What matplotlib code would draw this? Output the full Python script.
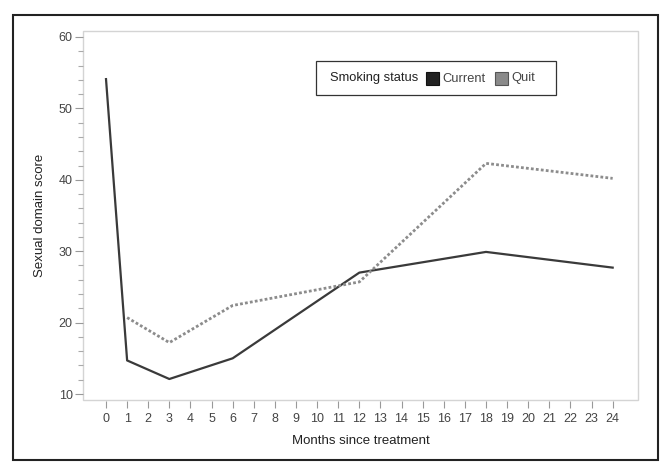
import matplotlib
matplotlib.use('Agg')
import matplotlib.pyplot as plt
from matplotlib.patches import Rectangle

plt.rcParams['font.family'] = ['Liberation Sans', 'DejaVu Sans']

# Sexual domain score by smoking status
current_months = [0, 1, 3, 6, 12, 18, 24]
current_score = [54.1, 14.7, 12.1, 15.0, 27.0, 29.9, 27.7]

quit_months = [1, 3, 6, 12, 18, 24]
quit_score = [20.7, 17.2, 22.4, 25.7, 42.3, 40.2]

x_ticks = list(range(0, 25))
y_major = [10, 20, 30, 40, 50, 60]
y_minor = [v for v in range(12, 60, 2) if v % 10 != 0]

W, H = 671, 473
fig = plt.figure(figsize=(W / 100, H / 100), dpi=100)


def fx(px):
    return px / W


def fy(py):
    return 1 - py / H


ax = fig.add_axes([fx(83), fy(400), (638 - 83) / W, (400 - 31) / H])

ax.plot(current_months, current_score, color='#3a3a3a', lw=1.6)
ax.plot(quit_months, quit_score, color='#8c8c8c', lw=2.0, linestyle=(0, (1, 0.8)))

ax.set_xlim(-1.09, 25.2)
ax.set_ylim(9.16, 60.84)

# light gray plot frame, ticks of x sit just below it
for s in ax.spines.values():
    s.set_visible(False)
ax.add_patch(Rectangle((0, 0), 1, 1, transform=ax.transAxes, fill=False,
                       ec='#d4d4d4', lw=1.0, clip_on=False, zorder=0))
ax.spines['bottom'].set_position(('outward', 1))

ax.set_xticks(x_ticks)
ax.set_yticks(y_major)
ax.set_yticks(y_minor, minor=True)
ax.tick_params(axis='x', direction='out', length=5.2, width=0.8, color='#999999',
               labelsize=9, labelcolor='#444444', pad=3.5)
ax.tick_params(axis='y', which='major', direction='out', length=6, width=0.8,
               color='#999999', labelsize=9, labelcolor='#444444', pad=1.5)
ax.tick_params(axis='y', which='minor', direction='out', length=3.5, width=0.8,
               color='#aaaaaa')

ax.set_xlabel('Months since treatment', fontsize=9.5, color='#222222', labelpad=7)
ax.set_ylabel('Sexual domain score', fontsize=9.5, color='#222222', labelpad=9)

# legend box drawn by hand: title sits to the left of the entries
legend_items = [('Current', '#222222', '#111111'), ('Quit', '#8a8a8a', '#555555')]
fig.patches.append(Rectangle((fx(316), fy(95)), (556 - 316) / W, (95 - 61) / H,
                             transform=fig.transFigure, fill=False, ec='#333333', lw=0.9))
fig.text(fx(330), fy(78.5), 'Smoking status', fontsize=9.3, color='#222222',
         ha='left', va='center')
sq_x = [426.5, 495]
for (name, fc, ec), x0 in zip(legend_items, sq_x):
    fig.patches.append(Rectangle((fx(x0), fy(85)), 12.5 / W, 12.5 / H,
                                 transform=fig.transFigure, fc=fc, ec=ec, lw=0.8))
    fig.text(fx(x0 + 16), fy(78.5), name, fontsize=9.3, color='#444444',
             ha='left', va='center')

# outer border of the figure
fig.patches.append(Rectangle((fx(13), fy(460)), (658 - 13) / W, (460 - 15) / H,
                             transform=fig.transFigure, fill=False, ec='#222222', lw=1.5))

fig.savefig('out.png', dpi=100)
